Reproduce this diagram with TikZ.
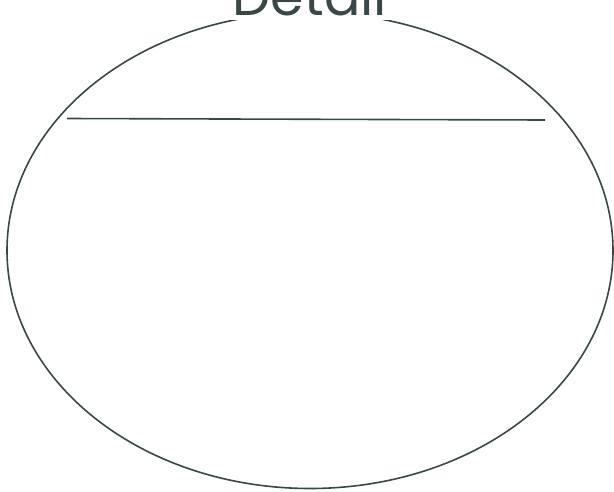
\documentclass[tikz,border=0pt]{standalone}
\usepackage{fontspec}
\setmainfont{Poppins}
\usetikzlibrary{positioning}
\definecolor{inkgray}{HTML}{3A4747}
\tikzset{outline/.style={draw=inkgray,line width=1.6pt},
  heading/.style={fill=white,text=inkgray,inner xsep=9pt,inner ysep=5pt,font=\fontsize{54}{54}\selectfont}}
\begin{document}
\begin{tikzpicture}[x=1pt,y=-1pt,line join=round]
\useasboundingbox (0,0) rectangle (614,491);
% --- outer frame
\draw[outline] (310,250.5) ellipse [x radius=303,y radius=238];
\node[heading,anchor=base] (title) at (310,15) {Detail};
% --- rule across the top
\coordinate (ruleL) at (67,118.5);
\coordinate (ruleR) at (545,120);
\draw[outline] (ruleL) -- (ruleR);
\end{tikzpicture}
\end{document}
